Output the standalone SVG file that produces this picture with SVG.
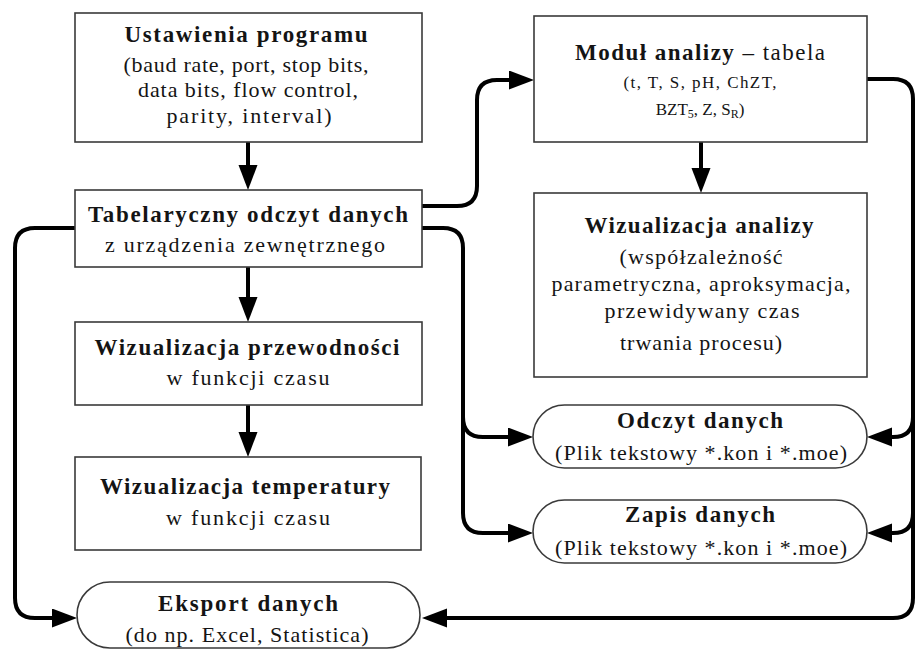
<svg xmlns="http://www.w3.org/2000/svg" width="916" height="652" viewBox="0 0 916 652">
<style>
.box{fill:#fff;stroke:#3a3a3a;stroke-width:1.6}
.t{font-family:"Liberation Serif","Times New Roman",serif;fill:#141414;text-anchor:middle}
.b{font-weight:bold;font-size:23px}
.r{font-size:22px}
.s{font-size:17px}
.c{fill:none;stroke:#000;stroke-width:4;stroke-linejoin:round}
.a{marker-end:url(#ah)}
</style>
<defs>
<marker id="ah" markerUnits="userSpaceOnUse" markerWidth="26" markerHeight="20" refX="19" refY="9.5" orient="auto">
<path d="M0,0 L25,9.5 L0,19 z" fill="#000"/>
</marker>
</defs>
<rect width="916" height="652" fill="#fff"/>

<g id="connectors">
<path class="c a" d="M248,142 V184"/>
<path class="c a" d="M248,267 V316"/>
<path class="c a" d="M248,405 V451"/>
<path class="c a" d="M701,142 V187"/>
<path class="c a" d="M422,206 H457 Q477,206 477,186 V100 Q477,80 497,80 H528"/>
<path class="c a" d="M422,228 H443 Q463,228 463,248 V513 Q463,533 483,533 H527"/>
<path class="c a" d="M463,417 Q463,437 483,437 H527"/>
<path class="c a" d="M75,228 H35 Q15,228 15,248 V598 Q15,618 35,618 H71"/>
<path class="c a" d="M867,79 H893 Q913,79 913,99 V598 Q913,618 893,618 H428"/>
<path class="c a" d="M913,417 Q913,437 893,437 H873"/>
<path class="c a" d="M913,513 Q913,533 893,533 H873"/>
</g>

<g id="ustawienia">
<rect class="box" x="75" y="13" width="347" height="129"/>
<text class="t b" x="246" y="42" textLength="243">Ustawienia programu</text>
<text class="t r" x="246" y="72" textLength="245">(baud rate, port, stop bits,</text>
<text class="t r" x="248" y="97" textLength="220">data bits, flow control,</text>
<text class="t r" x="249" y="123" textLength="165">parity, interval)</text>
</g>

<g id="tabelaryczny">
<rect class="box" x="75" y="190" width="347" height="77"/>
<text class="t b" x="248" y="222" font-size="24" textLength="320">Tabelaryczny odczyt danych</text>
<text class="t r" x="245" y="252" font-size="23" textLength="280">z urządzenia zewnętrznego</text>
</g>

<g id="przewodnosc">
<rect class="box" x="75" y="322" width="347" height="83"/>
<text class="t b" x="247" y="355" textLength="305">Wizualizacja przewodności</text>
<text class="t r" x="248" y="385" textLength="163">w funkcji czasu</text>
</g>

<g id="temperatura">
<rect class="box" x="75" y="457" width="346" height="93"/>
<text class="t b" x="245" y="494" textLength="290">Wizualizacja temperatury</text>
<text class="t r" x="248" y="525" textLength="164">w funkcji czasu</text>
</g>

<g id="eksport">
<rect class="box" x="77" y="582" width="343" height="66" rx="33"/>
<text class="t b" x="248" y="611" textLength="180">Eksport danych</text>
<text class="t r" x="247" y="642" textLength="243">(do np. Excel, Statistica)</text>
</g>

<g id="modul">
<rect class="box" x="534" y="16" width="333" height="126"/>
<text class="t" x="700" y="60" font-size="23" textLength="250"><tspan font-weight="bold">Moduł analizy</tspan> – tabela</text>
<text class="t s" x="700" y="88" textLength="153">(t, T, S, pH, ChZT,</text>
<text class="t s" x="700" y="115">BZT<tspan font-size="12" dy="3">5</tspan><tspan dy="-3">, Z, S</tspan><tspan font-size="12" dy="3">R</tspan><tspan dy="-3">)</tspan></text>
</g>

<g id="wizualizacja-analizy">
<rect class="box" x="534" y="193" width="333" height="184"/>
<text class="t b" x="699" y="233" textLength="229">Wizualizacja analizy</text>
<text class="t r" x="701" y="264" textLength="163">(współzależność</text>
<text class="t r" x="701" y="291" textLength="299">parametryczna, aproksymacja,</text>
<text class="t r" x="702" y="318" textLength="195">przewidywany czas</text>
<text class="t r" x="701" y="350" textLength="162">trwania procesu)</text>
</g>

<g id="odczyt">
<rect class="box" x="533" y="405" width="334" height="63" rx="31.5"/>
<text class="t b" x="700" y="428" textLength="166">Odczyt danych</text>
<text class="t r" x="701" y="460" textLength="292">(Plik tekstowy *.kon i *.moe)</text>
</g>

<g id="zapis">
<rect class="box" x="533" y="500" width="334" height="63" rx="31.5"/>
<text class="t b" x="700" y="522" textLength="150">Zapis danych</text>
<text class="t r" x="701" y="555" textLength="292">(Plik tekstowy *.kon i *.moe)</text>
</g>
</svg>
